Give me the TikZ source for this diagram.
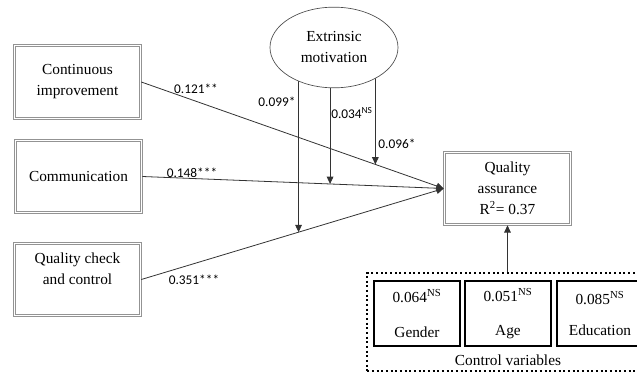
\documentclass[tikz,border=0pt]{standalone}
\usepackage{fontspec}
\setmainfont{Liberation Serif}
\newfontfamily\lblfont{Carlito}
\usetikzlibrary{arrows.meta,calc,shapes.geometric,backgrounds}

\begin{document}
\begin{tikzpicture}[x=0.75pt,y=0.75pt,yscale=-1,xscale=1,
	every node/.style={font=\fontsize{11.5}{15.75}\selectfont},
	varbox/.style={draw=gray!85,line width=0.7pt,double=white,double distance=0.9pt,minimum width=95pt,minimum height=54.5pt,align=center},
	ctrlbox/.style={draw=black,line width=1.5pt,minimum width=64.5pt,minimum height=49pt,align=center},
	lbl/.style={font=\lblfont\fontsize{10}{12}\selectfont,inner sep=1pt},
	link/.style={draw=black!80,line width=0.6pt,-{Triangle[length=5.5pt,width=5pt]}}]
			\useasboundingbox (0,0) rectangle (637,374);
			
			% constructs
			\node[varbox] (ci) at (77.5,82) {Continuous\\improvement};
			\node[varbox] (comm) at (78.5,176.5) {Communication};
			\node[varbox] (qcc) at (77.5,279.5) {Quality check\\and control\\~};
			\node[varbox] (qa) at (507.5,188.5) {Quality\\assurance\\R\textsuperscript{2}= 0.37};
			\node[draw=black!70,fill=white,line width=0.5pt,ellipse,minimum width=96pt,minimum height=60.5pt,align=center] (em) at (334,47.5) {Extrinsic\\motivation};
			
			% control variables
			\node[draw=black,dotted,line width=1.5pt,minimum width=212pt,minimum height=74pt] (ctrl) at (508.5,322) {};
			\node[ctrlbox] (gen) at (417,313.5) {0.064\textsuperscript{NS}\\[10pt]Gender};
			\node[ctrlbox] (age) at (508,313.5) {0.051\textsuperscript{NS}\\[10pt]Age};
			\node[ctrlbox] (edu) at (600,313.5) {0.085\textsuperscript{NS}\\[8pt]Education};
			\node (ctrltxt) at (508,360) {Control variables};
			
			% direct paths
			\draw[link] (ci.east) -- (qa.west);
			\draw[link] (comm.east) -- (qa.west);
			\draw[link] (qcc.east) -- (qa.west);
			\draw[link] (qa.south |- ctrl.north) -- (qa.south);
			
			% moderation
			\coordinate (m1) at ($(qcc.east)!0.52!(qa.west)$);
			\coordinate (m2) at ($(comm.east)!0.623!(qa.west)$);
			\coordinate (m3) at ($(ci.east)!0.774!(qa.west)$);
			\begin{pgfonlayer}{background}
			\draw[link] (m1 |- em.center) -- (m1);
			\draw[link] (m2 |- em.center) -- (m2);
			\draw[link] (m3 |- em.center) -- (m3);
			\end{pgfonlayer}
			
			\node[lbl] (b1) at (196,89) {0.121**};
			\node[lbl] (b2) at (192,173) {0.148***};
			\node[lbl] (b3) at (194,280) {0.351***};
			\node[lbl] (i1) at (277,102) {0.099*};
			\node[lbl] (i2) at (352,113) {0.034\textsuperscript{NS}};
			\node[lbl] (i3) at (397,144) {0.096*};
\end{tikzpicture}
\end{document}
